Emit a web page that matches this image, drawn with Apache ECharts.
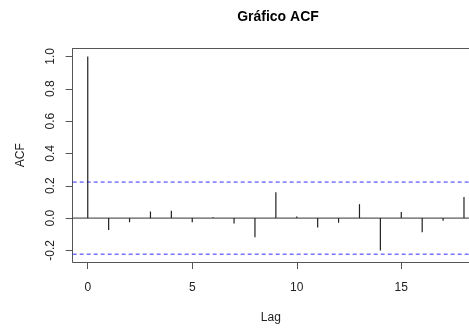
<!DOCTYPE html>
<html><head><meta charset="utf-8">
<script src="https://cdn.jsdelivr.net/npm/echarts@6/dist/echarts.min.js"></script>
<style>html,body{margin:0;padding:0;background:#fff}#c{width:469px;height:329px}</style>
</head><body><div id="c"></div>
<script>
const lags = [0,1,2,3,4,5,6,7,8,9,10,11,12,13,14,15,16,17,18];
const acfValues = [1.0,-0.074,-0.025,0.041,0.045,-0.025,0.006,-0.033,-0.119,0.16,0.01,-0.058,-0.029,0.086,-0.2,0.037,-0.088,-0.016,0.13];
const ciBound = 0.223;
const xTicks = [0,5,10,15];
const yTicks = [-0.2,0,0.2,0.4,0.6,0.8,1.0];
const titleText = 'Gráfico ACF';

const font = 'Liberation Sans, Arial, sans-serif';
const XMIN = -0.72, XMAX = 18.24;
const chart = echarts.init(document.getElementById('c'), null, {renderer:'canvas'});
function hline(y, color, type){
  return {type:'line',xAxisIndex:0,yAxisIndex:0,data:[[XMIN,y],[XMAX,y]],symbol:'none',silent:true,
    lineStyle:{color:color,width:1,type:type},z:1};
}
chart.setOption({
  animation:false,
  backgroundColor:'#fff',
  title:{text:titleText,left:273,top:5,textAlign:'center',
    textStyle:{fontFamily:font,fontSize:14,fontWeight:'bold',color:'#000'}},
  grid:{left:72.7,top:48.5,bottom:67,right:0},
  xAxis:[{
    type:'value',min:XMIN,max:XMAX,
    name:'Lag',nameLocation:'middle',nameGap:50,
    nameTextStyle:{fontFamily:font,fontSize:12,color:'#222'},
    axisLine:{show:true,onZero:false,lineStyle:{color:'#555',width:1}},
    axisTick:{show:true,length:7,customValues:xTicks,lineStyle:{color:'#555'}},
    axisLabel:{show:true,margin:20,customValues:xTicks,fontFamily:font,fontSize:12,color:'#222',formatter:v=>String(v)},
    splitLine:{show:false}
  },{
    type:'value',position:'top',min:XMIN,max:XMAX,
    axisLine:{show:true,onZero:false,lineStyle:{color:'#555',width:1}},
    axisTick:{show:false},axisLabel:{show:false},splitLine:{show:false}
  }],
  yAxis:{
    type:'value',min:-0.2715,max:1.049,
    name:'ACF',nameLocation:'middle',nameGap:46,nameRotate:90,
    nameTextStyle:{fontFamily:font,fontSize:12,color:'#222'},
    axisLine:{show:true,onZero:false,lineStyle:{color:'#555',width:1}},
    axisTick:{show:true,length:7,customValues:yTicks,lineStyle:{color:'#555'}},
    axisLabel:{show:true,rotate:90,margin:16,customValues:yTicks,fontFamily:font,fontSize:12,color:'#222',formatter:v=>v.toFixed(1)},
    splitLine:{show:false}
  },
  series:[
    hline(0,'#333','solid'),
    hline(ciBound,'#3030ff',[4,3]),
    hline(-ciBound,'#3030ff',[4,3]),
    {
    type:'custom',z:3,
    data:lags.map((l,i)=>[l,acfValues[i]]),
    renderItem:(params,api)=>{
      const p0 = api.coord([api.value(0),0]);
      const p1 = api.coord([api.value(0),api.value(1)]);
      return {type:'line',shape:{x1:p0[0],y1:p0[1],x2:p1[0],y2:p1[1]},
        style:{stroke:'#222',lineWidth:1.2}};
    }
  }]
});
</script></body></html>
